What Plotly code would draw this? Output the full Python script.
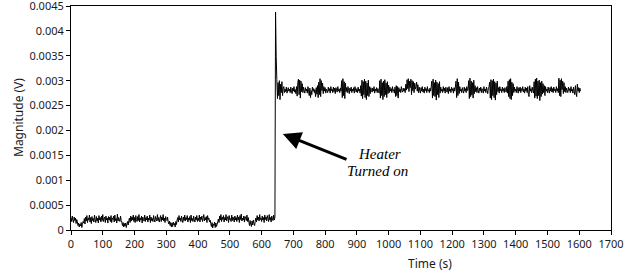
import plotly.graph_objects as go

# ---------------- data ----------------
sample_period_s = 2  # one sample every 2 s, starting at t = 0

# Magnitude in microvolts
magnitude_low_uV = [
    250, 170, 280, 200, 150, 260, 190, 240, 130, 210, 170, 90, 140, 60, 120, 80, 150, 50, 110, 170,
    140, 230, 120, 260, 180, 290, 150, 240, 200, 300, 160, 250, 130, 270, 190, 230, 160, 300, 210, 150,
    270, 180, 240, 140, 290, 200, 250, 160, 280, 190, 310, 170, 230, 260, 150, 280, 200, 240, 140, 270,
    200, 260, 170, 290, 150, 240, 210, 280, 160, 300, 190, 230, 140, 320, 180, 250, 210, 170, 280, 190,
    160, 90, 150, 60, 130, 80, 140, 50, 120, 170, 100, 190, 240, 150, 280, 180, 260, 200, 300, 170,
    250, 150, 290, 210, 170, 270, 190, 310, 160, 240, 200, 280, 140, 260, 210, 180, 300, 170, 250, 200,
    280, 160, 240, 200, 300, 150, 260, 190, 230, 170, 290, 210, 160, 270, 220, 180, 310, 190, 250, 160,
    230, 290, 170, 260, 200, 310, 180, 240, 150, 270, 210, 190, 260, 160, 120, 180, 90, 150, 60, 140,
    70, 160, 100, 130, 60, 170, 110, 200, 250, 160, 290, 200, 240, 170, 280, 210, 150, 260, 190, 300,
    180, 250, 210, 290, 160, 240, 200, 270, 150, 300, 190, 230, 170, 280, 210, 160, 260, 200, 290, 170,
    240, 190, 300, 160, 260, 210, 280, 170, 230, 310, 180, 250, 200, 270, 150, 290, 210, 240, 160, 200,
    130, 70, 150, 40, 120, 90, 160, 50, 140, 70, 110, 160, 220, 150, 280, 200, 310, 170, 260, 210,
    290, 160, 250, 200, 310, 180, 240, 270, 150, 290, 210, 230, 170, 300, 190, 260, 220, 160, 280, 200,
    250, 170, 300, 200, 260, 150, 290, 210, 320, 180, 240, 200, 280, 160, 270, 230, 190, 300, 170, 250,
    160, 90, 190, 110, 70, 180, 100, 200, 130, 90, 170, 240, 160, 290, 200, 260, 180, 310, 210, 240,
    170, 280, 200, 250, 150, 300, 210, 260, 180, 290, 230, 170, 310, 200, 250, 160, 280, 220, 190, 300,
    200, 260,
]
magnitude_spike_uV = [4380, 3480]
magnitude_high_uV = [
    3020, 2640, 2960, 2700, 3000, 2620, 2930, 2760, 2980, 2700, 2850, 2880, 2760, 2830, 2780, 2870, 2750, 2820, 2860, 2790,
    2830, 2760, 2870, 2800, 2740, 2850, 2790, 2880, 2770, 2820, 2740, 2880, 2690, 2960, 3030, 2720, 3010, 2650, 2990, 2780,
    2940, 2760, 2870, 2800, 2750, 2860, 2790, 2830, 2750, 2880, 2780, 2700, 2850, 2660, 2800, 2720, 2870, 2790, 2840, 2760,
    2820, 2680, 2860, 2730, 2900, 2660, 2970, 2720, 3040, 2680, 3000, 2800, 2950, 2740, 2880, 2790, 2860, 2750, 2830, 2800,
    2760, 2870, 2790, 2840, 2750, 2880, 2800, 2830, 2760, 2870, 2780, 2850, 2740, 2860, 2810, 2770, 2880, 2790, 2830, 2760,
    2850, 2790, 3000, 2660, 3040, 2700, 2980, 2640, 2950, 2780, 2860, 2760, 2880, 2800, 2740, 2850, 2790, 2870, 2760, 2830,
    2790, 2860, 2750, 2880, 2800, 2770, 2840, 2760, 2870, 2790, 2830, 2750, 2900, 2690, 3010, 2640, 2980, 2720, 3030, 2660,
    2990, 2620, 2950, 2700, 3010, 2680, 2880, 2740, 2860, 2800, 2770, 2850, 2790, 2880, 2750, 2830, 2790, 2860, 2760, 2840,
    2800, 2750, 3000, 2650, 3030, 2700, 2960, 2620, 2990, 2680, 3020, 2720, 2950, 2660, 2980, 2740, 2910, 2760, 2870, 2790,
    2840, 2760, 2880, 2790, 2820, 2750, 2870, 2680, 2900, 2700, 2880, 2650, 2860, 2780, 2830, 2760, 2880, 2800, 2770, 2850,
    2790, 2840, 2760, 2930, 2810, 3020, 2840, 3040, 2780, 2990, 2860, 3030, 2720, 3000, 2800, 2980, 2760, 2950, 2830, 2880,
    2970, 2790, 2920, 2760, 2870, 2800, 2750, 2860, 2790, 2880, 2770, 2830, 2750, 2870, 2800, 2840, 2760, 2880, 2790, 2820,
    2760, 2850, 2790, 2880, 2990, 2650, 3030, 2700, 2960, 2680, 3010, 2610, 2970, 2720, 2940, 2660, 2980, 2750, 2870, 2790,
    2830, 2760, 2880, 2790, 2850, 2750, 2870, 2800, 2770, 2860, 2740, 2880, 2790, 2830, 2760, 2870, 2800, 2840, 2750, 2860,
    2790, 2870, 2990, 2660, 3040, 2700, 2970, 2740, 2880, 2790, 2830, 2760, 2860, 2800, 2750, 2870, 2790, 2840, 2760, 2880,
    2800, 2830, 3000, 2640, 3050, 2680, 2990, 2710, 2960, 2650, 3010, 2740, 2900, 2780, 2860, 2760, 2880, 2800, 2750, 2850,
    2790, 2870, 2760, 2840, 2800, 2750, 2880, 2790, 2830, 2760, 2870, 2800, 2740, 2860, 2880, 2970, 2650, 3020, 2620, 3000,
    2700, 3030, 2660, 2980, 2610, 2950, 2720, 2990, 2780, 2860, 2750, 2880, 2800, 2830, 2760, 2870, 2790, 2840, 2760, 2860,
    2800, 2770, 2880, 2750, 2990, 2680, 3020, 2640, 3040, 2620, 2970, 2700, 2940, 2760, 2870, 2790, 2830, 2760, 2880, 2800,
    2750, 2860, 2790, 2870, 2760, 2840, 2800, 2880, 2770, 2830, 2750, 2870, 2790, 2850, 2760, 2880, 2720, 2680, 2900, 2790,
    2840, 2760, 2870, 2800, 2750, 2980, 2650, 3030, 2690, 3050, 2640, 2990, 2700, 3010, 2600, 2960, 2680, 2990, 2730, 2940,
    2760, 2900, 2700, 2880, 2790, 2830, 2760, 2870, 2800, 2750, 2860, 2790, 2880, 2770, 2840, 2760, 2870, 2800, 2830, 2760,
    2880, 2790, 2840, 2760, 3050, 2700, 3010, 2680, 3040, 2820, 2990, 2740, 2960, 2780, 2880, 2760, 2850, 2800, 2760, 2870,
    2800, 2840, 2760, 2880, 2790, 2830, 2750, 2870, 2800, 2720, 2900, 2760, 2680, 2930, 2790, 2860, 2760, 2850, 2790,
]

x_tick_vals = [0, 100, 200, 300, 400, 500, 600, 700, 800, 900, 1000,
               1100, 1200, 1300, 1400, 1500, 1600, 1700]
y_tick_vals = [0, 0.0005, 0.001, 0.0015, 0.002, 0.0025, 0.003, 0.0035, 0.004, 0.0045]
y_tick_text = ["0", "0.0005", "0.001", "0.0015", "0.002", "0.0025", "0.003",
               "0.0035", "0.004", "0.0045"]

# --------------- build ----------------
magnitude_uV = magnitude_low_uV + magnitude_spike_uV + magnitude_high_uV
magnitude_V = [v * 1e-6 for v in magnitude_uV]
time_s = [i * sample_period_s for i in range(len(magnitude_V))]

font_ui = "Noto Sans, Liberation Sans, Arial, sans-serif"
font_serif = "Liberation Serif, Times New Roman, serif"

fig = go.Figure()
fig.add_trace(go.Scatter(
    x=time_s, y=magnitude_V, mode="lines",
    line=dict(color="black", width=1, simplify=False),
    hoverinfo="skip", showlegend=False,
))

axis_common = dict(
    showgrid=False, zeroline=False, automargin=False,
    showline=True, linecolor="black", linewidth=1, mirror=True,
    ticks="outside", ticklen=4, tickcolor="black", tickwidth=1,
    ticklabeloverflow="allow",
    tickfont=dict(family=font_ui, size=11, color="#1a1a1a"),
)

fig.update_xaxes(range=[0, 1700.01], tickvals=x_tick_vals, **axis_common)
fig.update_yaxes(range=[0, 0.0045001], tickvals=y_tick_vals, ticktext=y_tick_text,
                 **axis_common)

fig.update_layout(
    width=633, height=276,
    margin=dict(l=71, r=22, t=6, b=46, autoexpand=False),
    paper_bgcolor="white", plot_bgcolor="white",
    annotations=[
        # arrow
        dict(x=667, y=0.00193, ax=872, ay=0.001406, xref="x", yref="y",
             axref="x", ayref="y", text="", showarrow=True,
             arrowhead=2, arrowsize=1.2, arrowwidth=3, arrowcolor="black"),
        dict(x=970, y=0.00153, xref="x", yref="y", text="<i>Heater</i>",
             showarrow=False, font=dict(family=font_serif, size=15, color="black"),
             xanchor="center", yanchor="middle"),
        dict(x=964, y=0.00119, xref="x", yref="y", text="<i>Turned on</i>",
             showarrow=False, font=dict(family=font_serif, size=15, color="black"),
             xanchor="center", yanchor="middle"),
        # axis titles
        dict(x=(430 - 71) / 540, y=(230 - 263) / 224, xref="paper", yref="paper",
             text="Time (s)", showarrow=False,
             font=dict(family=font_ui, size=12, color="#1a1a1a"),
             xanchor="center", yanchor="middle"),
        dict(x=(18 - 71) / 540, y=0.5, xref="paper", yref="paper",
             text="Magnitude (V)", showarrow=False, textangle=-90,
             font=dict(family=font_ui, size=12, color="#1a1a1a"),
             xanchor="center", yanchor="middle"),
    ],
)

fig.write_html(
    "out.html",
    config={"displayModeBar": False},
    post_script="document.body.style.margin='0';document.body.style.padding='0';",
)
